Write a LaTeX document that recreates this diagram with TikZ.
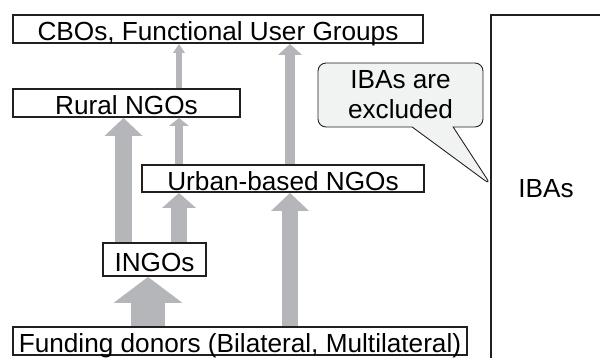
\documentclass[tikz,border=0pt]{standalone}
\usepackage{fontspec}
\setmainfont{Liberation Sans}
\usetikzlibrary{positioning,arrows.meta,shapes.callouts}
\definecolor{flowgray}{RGB}{180,182,185}
\definecolor{ink}{RGB}{35,31,32}
\definecolor{notefill}{RGB}{241,242,242}

\begin{document}
\begin{tikzpicture}[x=0.02cm,y=-0.02cm,font=\fontsize{14.9}{17}\selectfont]
        \tikzstyle{box}=[draw=ink, line width=1.1pt, inner sep=0pt, minimum height=0.56cm, text height=0.48cm, text depth=0pt]
        \tikzstyle{flow}=[draw=flowgray]
        \useasboundingbox (0,0) rectangle (600,358);

        \node[box, minimum width=8.2cm]  (cbo)   at (218,29)    {CBOs, Functional User Groups};
        \node[box, minimum width=4.54cm] (rural) at (126.5,103) {Rural NGOs};
        \node[box, minimum width=5.64cm, minimum height=0.54cm] (urban) at (283,178.5) {Urban-based NGOs};
        \node[box, minimum width=2.06cm, minimum height=0.66cm, text height=0.5cm] (ingo) at (154.5,259.5) {INGOs};
        \node[box, minimum width=9.08cm] (donor) at (240,341)   {Funding donors (Bilateral, Multilateral)};

        % columns of the arrows
        \coordinate (xa) at (123.5,0);
        \coordinate (xb) at (179,0);
        \coordinate (xc) at (148,0);
        \coordinate (xd) at (290,0);

        \draw[flow, line width=0.12cm, -{Triangle[width=0.24cm,length=0.18cm,line width=0pt]}] (xb |- rural.north) -- (xb |- cbo.south);
        \draw[flow, line width=0.22cm, -{Triangle[width=0.48cm,length=0.22cm,line width=0pt]}] (xd |- urban.north) -- (xd |- cbo.south);
        \draw[flow, line width=0.36cm, -{Triangle[width=0.76cm,length=0.36cm,line width=0pt]}] (xa |- ingo.north) -- (xa |- rural.south);
        \draw[flow, line width=0.18cm, -{Triangle[width=0.4cm,length=0.16cm,line width=0pt]}] (xb |- urban.north) -- (xb |- rural.south);
        \draw[flow, line width=0.32cm, -{Triangle[width=0.68cm,length=0.3cm,line width=0pt]}] (xb |- ingo.north) -- (xb |- urban.south);
        \draw[flow, line width=0.7cm, -{Triangle[width=1.38cm,length=0.52cm,line width=0pt]}] (xc |- donor.north) -- (xc |- ingo.south);
        \draw[flow, line width=0.34cm, -{Triangle[width=0.76cm,length=0.36cm,line width=0pt]}] (xd |- donor.north) -- (xd |- urban.south);

        % IBAs side
        \draw[ink, line width=0.9pt] (491,358) -- (491,15) -- (600,15);
        \node (iba) at (546,189) {IBAs};
        \coordinate (tip) at (491,185);
        \node[rectangle callout, draw=ink, line width=0.5pt, fill=notefill, rounded corners=0.16cm,
              minimum width=3.3cm, minimum height=1.28cm, align=center,
              callout absolute pointer={(tip)}, callout pointer width=0.82cm] (note) at (400.5,95) {IBAs are\\excluded};
    \end{tikzpicture}
\end{document}
